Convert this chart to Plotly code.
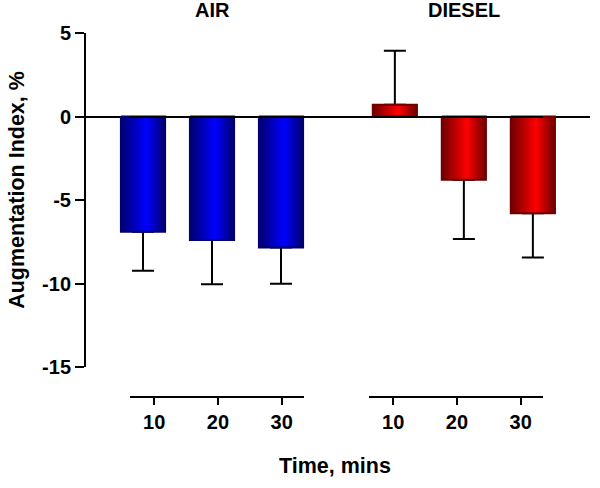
import plotly.graph_objects as go

# data
GROUPS = ["AIR", "DIESEL"]
TIME = [10, 20, 30]
AIR_MEAN = [-6.90, -7.40, -7.84]
AIR_SEM = [2.34, 2.64, 2.18]
DIESEL_MEAN = [0.70, -3.78, -5.80]
DIESEL_SEM = [3.24, 3.56, 2.64]
Y_TICKS = [-15, -10, -5, 0, 5]

FONT = "Liberation Sans, Arial, sans-serif"
GROUP_GAP = 3.65     # bar slots between the first bars of the two groups
BAR_W = 0.64

STYLES = {
    "AIR": ("#00006e", "#0000ff"),
    "DIESEL": ("#6e0000", "#ff0000"),
}

fig = go.Figure()

for g, (name, means, sems) in enumerate(zip(GROUPS, [AIR_MEAN, DIESEL_MEAN],
                                            [AIR_SEM, DIESEL_SEM])):
    dark, bright = STYLES[name]
    pos = [g * GROUP_GAP + j for j in range(len(TIME))]

    # carrier bar: only used for the (one-sided) error bars
    fig.add_trace(go.Bar(
        x=pos, y=means, width=BAR_W,
        marker=dict(color="rgba(0,0,0,0)", line=dict(width=0)),
        error_y=dict(
            type="data", symmetric=False,
            array=[s if m > 0 else 0 for m, s in zip(means, sems)],
            arrayminus=[s if m <= 0 else 0 for m, s in zip(means, sems)],
            color="black", thickness=2, width=11,
        ),
        showlegend=False, hoverinfo="skip",
    ))

    # shaded "cylinder" look on top of each bar
    for p, m, t in zip(pos, means, TIME):
        x0, x1 = p - BAR_W / 2, p + BAR_W / 2
        fig.add_trace(go.Scatter(
            x=[x0, x1, x1, x0, x0], y=[0, 0, m, m, 0],
            mode="lines", fill="toself",
            line=dict(color=dark, width=2),
            fillgradient=dict(type="horizontal",
                              colorscale=[[0, dark], [0.57, bright], [1, dark]]),
            showlegend=False,
            hovertemplate=f"{name} {t} min: {m:.1f}%<extra></extra>",
        ))

# dummy traces so the two time axes get drawn
for ax in ["x2", "x3"]:
    fig.add_trace(go.Scatter(x=TIME, y=[None] * len(TIME), xaxis=ax, yaxis="y",
                             showlegend=False, hoverinfo="skip"))

tick_font = dict(family=FONT, size=20, color="black", weight="bold")

time_axis = dict(
    anchor="free", position=0, range=[6.2, 33.5],
    tickvals=TIME, ticks="outside", ticklen=7, tickwidth=2, tickcolor="black",
    showline=True, linewidth=2, linecolor="black", showgrid=False, zeroline=False,
    tickfont=tick_font,
)

fig.update_layout(
    width=600, height=488,
    paper_bgcolor="white", plot_bgcolor="rgba(0,0,0,0)",
    margin=dict(l=86, r=10, t=33, b=91),
    font=dict(family=FONT, color="black"),
    barmode="overlay",
    xaxis=dict(range=[-0.826, 6.478], visible=False, domain=[0, 1]),
    xaxis2=dict(domain=[0.0873, 0.4325], **time_axis),
    xaxis3=dict(domain=[0.5615, 0.9067], **time_axis),
    yaxis=dict(
        anchor="x", domain=[0.0824, 1], range=[-15, 5],
        tickvals=Y_TICKS, ticktext=[str(v) for v in Y_TICKS],
        ticks="outside", ticklen=9, tickwidth=2,
        tickcolor="black", showline=True, linewidth=2, linecolor="black",
        showgrid=False, zeroline=True, zerolinecolor="black", zerolinewidth=2,
        tickfont=tick_font,
    ),
)

title_font = dict(family=FONT, size=20, color="black", weight="bold")
axis_title_font = dict(family=FONT, size=21.5, color="black", weight="bold")
for g, name in enumerate(GROUPS):
    fig.add_annotation(x=g * GROUP_GAP + 1, y=1.063, xref="x", yref="paper",
                       xanchor="center", yanchor="middle",
                       text=name, showarrow=False, font=title_font)

fig.add_annotation(x=0.494, y=-0.19, xref="paper", yref="paper",
                   xanchor="center", yanchor="middle",
                   text="Time, mins", showarrow=False, font=axis_title_font)
fig.add_annotation(x=-0.137, y=0.569, xref="paper", yref="paper",
                   xanchor="center", yanchor="middle",
                   text="Augmentation Index, %", textangle=-90,
                   showarrow=False, font=axis_title_font)

# drop the browser's default 8px body margin so the figure sits at the page corner
fig.write_html("out.html", config={"displayModeBar": False},
               post_script="document.body.style.margin = '0';")
